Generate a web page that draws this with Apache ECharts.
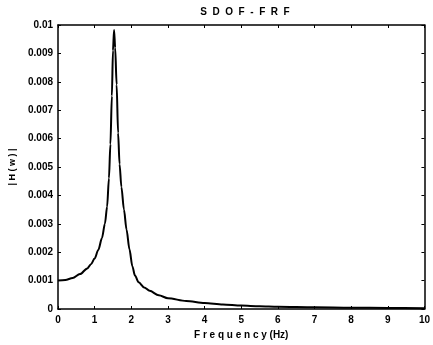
<!DOCTYPE html>
<html>
<head>
<meta charset="utf-8">
<script src="https://cdn.jsdelivr.net/npm/echarts@6/dist/echarts.min.js"></script>
<style>
  html, body { margin: 0; padding: 0; background: #fff; }
  #chart { width: 433px; height: 345px; }
</style>
</head>
<body>
<div id="chart"></div>
<script>
// Frequency response magnitude of a single-degree-of-freedom system
const frequency = [0, 0.2, 0.4, 0.6, 0.8, 0.9, 1.0, 1.1, 1.2, 1.28, 1.34, 1.39, 1.43, 1.47, 1.5, 1.53, 1.56, 1.6, 1.64, 1.68, 1.73, 1.8, 1.87, 1.95, 2.03, 2.1, 2.2, 2.35, 2.5, 2.75, 3.0, 3.5, 4.0, 4.5, 5.0, 5.5, 6.0, 7.0, 8.0, 9.0, 10.0];
const magnitude = [0.00100, 0.00102, 0.00109, 0.00123, 0.00143, 0.00158, 0.00178, 0.00208, 0.00250, 0.00300, 0.00360, 0.00460, 0.00580, 0.00750, 0.00910, 0.00982, 0.00920, 0.00790, 0.00620, 0.00510, 0.00430, 0.00350, 0.00280, 0.00210, 0.00150, 0.00118, 0.00094, 0.00076, 0.00064, 0.00048, 0.00038, 0.00028, 0.00021, 0.00016, 0.00012, 0.00010, 0.00008, 0.00006, 0.000045, 0.000035, 0.00003];
const xTicks = { min: 0, max: 10, step: 1 };
const yTicks = { min: 0, max: 0.01, step: 0.001 };

const points = frequency.map((f, i) => [f, magnitude[i]]);

const chart = echarts.init(document.getElementById('chart'), null, { renderer: 'canvas' });

const labelFont = { fontFamily: 'Liberation Sans', fontWeight: 'bold', fontSize: 10, color: '#000' };
const axisLine = { show: true, onZero: false, lineStyle: { color: '#000', width: 1.5 } };
const tickIn = { show: true, inside: true, length: 3, lineStyle: { color: '#000', width: 1 } };

chart.setOption({
  animation: false,
  backgroundColor: '#fff',
  title: {
    text: 'S  D  O  F  -  F  R  F',
    left: 240,
    top: 2,
    textAlign: 'center',
    textStyle: { fontFamily: 'Liberation Sans', fontWeight: 'bold', fontSize: 10, color: '#000' }
  },
  grid: { left: 54, top: 25, right: 6, bottom: 34, containLabel: false },
  xAxis: [
    {
      type: 'value', min: xTicks.min, max: xTicks.max, interval: xTicks.step,
      name: 'F r e q u e n c y (Hz)', nameLocation: 'middle', nameGap: 21,
      nameTextStyle: { fontFamily: 'Liberation Sans', fontWeight: 'bold', fontSize: 10, color: '#000' },
      axisLine: axisLine, axisTick: tickIn, splitLine: { show: false },
      axisLabel: Object.assign({ margin: 6 }, labelFont)
    },
    {
      type: 'value', position: 'top', min: xTicks.min, max: xTicks.max, interval: xTicks.step,
      axisLine: axisLine, axisTick: tickIn, splitLine: { show: false },
      axisLabel: { show: false }
    }
  ],
  yAxis: [
    {
      type: 'value', min: yTicks.min, max: yTicks.max, interval: yTicks.step,
      name: '| H ( w ) |', nameLocation: 'middle', nameGap: 41,
      nameTextStyle: { fontFamily: 'Liberation Sans', fontWeight: 'bold', fontSize: 9, color: '#000' },
      axisLine: axisLine, axisTick: tickIn, splitLine: { show: false },
      axisLabel: Object.assign({
        margin: 5,
        formatter: v => (v === 0 ? '0' : String(parseFloat(v.toFixed(3))))
      }, labelFont)
    },
    {
      type: 'value', position: 'right', min: yTicks.min, max: yTicks.max, interval: yTicks.step,
      axisLine: axisLine, axisTick: tickIn, splitLine: { show: false },
      axisLabel: { show: false }
    }
  ],
  series: [
    {
      type: 'line',
      xAxisIndex: 0, yAxisIndex: 0,
      data: points,
      smooth: 0.3,
      smoothMonotone: 'x',
      showSymbol: false,
      lineStyle: { color: '#000', width: 2 }
    }
  ]
});
</script>
</body>
</html>
